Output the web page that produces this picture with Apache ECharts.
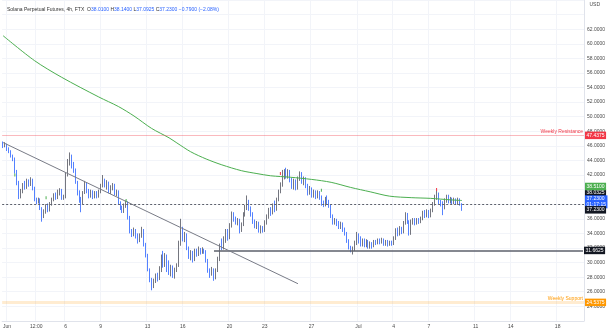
<!DOCTYPE html>
<html><head><meta charset="utf-8">
<script src="https://cdn.jsdelivr.net/npm/echarts@6/dist/echarts.min.js"></script>
<style>html,body{margin:0;padding:0;background:#fff}#c{width:612px;height:331px}</style>
</head><body><div id="c"></div>
<script>
// 4h candles, category 0 = May 31 16:00; rows are [open, close, low, high]
const candles = [
[46.4,46.0,45.7,46.6],[46.0,46.2,45.8,46.5],[46.2,45.5,45.3,46.3],[45.5,45.3,45.0,45.8],[45.3,44.6,44.4,45.4],
[44.6,44.2,43.9,44.8],[44.2,42.5,42.2,44.4],[42.5,41.0,40.6,42.7],[41.0,39.0,38.7,41.2],[39.0,39.8,38.8,40.1],
[39.8,40.6,39.5,40.9],[40.6,40.3,40.0,41.2],[40.3,41.1,40.1,41.5],[41.1,40.7,40.4,41.4],[40.7,41.3,40.5,41.7],
[41.3,40.2,39.9,41.5],[40.2,38.7,38.4,40.4],[38.7,38.4,38.0,38.9],[38.4,38.6,38.1,38.9],[38.6,37.4,37.2,38.8],
[37.4,36.4,35.6,37.6],[36.4,37.0,36.1,37.3],[37.0,37.8,36.7,38.0],[37.8,37.2,36.9,38.1],[37.2,38.0,37.0,38.3],
[38.0,38.6,37.8,38.9],[38.6,39.2,38.4,39.5],[39.2,38.9,38.6,39.6],[38.9,39.5,38.7,40.0],[39.5,39.9,39.2,40.2],
[39.9,38.9,38.6,40.1],[38.9,39.0,38.6,39.3],[39.0,42.0,38.8,42.3],[42.0,43.8,41.8,44.2],[43.8,44.5,43.3,45.1],
[44.5,43.2,42.9,44.8],[43.2,42.6,42.3,43.8],[42.6,41.0,40.8,42.9],[41.0,39.5,39.2,41.2],[39.5,38.8,38.2,39.9],
[38.8,38.3,36.9,39.0],[38.3,39.6,38.0,39.8],[39.6,40.8,39.4,41.2],[40.8,39.8,39.5,41.0],[39.8,39.2,38.8,40.1],
[39.2,39.6,38.9,40.0],[39.6,39.0,38.7,39.9],[39.0,39.5,38.8,39.8],[39.5,39.1,38.8,39.8],[39.1,39.7,38.9,40.0],
[39.7,40.5,39.5,40.8],[40.5,41.2,40.3,42.0],[41.2,40.6,40.3,41.5],[40.6,40.9,40.0,41.3],[40.9,39.8,39.5,41.1],
[39.8,40.3,39.4,40.6],[40.3,40.6,39.9,40.9],[40.6,39.4,39.2,40.8],[39.4,39.7,39.1,40.0],[39.7,38.2,37.9,39.9],
[38.2,37.5,37.2,38.4],[37.5,37.0,36.8,37.8],[37.0,37.8,36.8,38.1],[37.8,38.2,37.5,38.5],[38.2,36.2,35.9,38.4],
[36.2,34.3,34.0,36.4],[34.3,33.9,33.5,34.6],[33.9,34.4,33.6,34.8],[34.4,33.7,33.3,34.6],[33.7,33.0,32.6,34.0],
[33.0,33.6,32.8,34.0],[33.6,34.4,33.4,34.9],[34.4,32.5,32.2,34.6],[32.5,31.0,30.7,32.7],[31.0,29.0,28.8,31.2],
[29.0,27.6,27.3,29.2],[27.6,26.8,26.2,27.9],[26.8,27.5,26.5,27.8],[27.5,28.2,27.2,28.5],[28.2,27.8,27.4,28.6],
[27.8,28.9,27.6,29.5],[28.9,30.8,28.7,31.1],[30.8,29.6,29.3,31.6],[29.6,30.9,29.4,31.3],[30.9,30.1,28.7,31.1],
[30.1,28.6,28.3,30.3],[28.6,29.4,28.1,29.7],[29.4,28.1,27.9,29.6],[28.1,29.0,27.8,29.3],[29.0,29.6,28.7,29.9],
[29.6,32.5,29.4,33.0],[32.5,34.6,32.3,36.0],[34.6,33.2,32.9,34.9],[33.2,33.8,32.8,34.2],[33.8,32.0,31.7,34.0],
[32.0,31.0,30.5,32.2],[31.0,31.3,30.3,31.7],[31.3,30.4,30.0,31.6],[30.4,31.5,30.2,31.9],[31.5,31.1,30.8,31.9],
[31.1,31.8,30.9,32.2],[31.8,31.4,31.1,32.0],[31.4,31.7,31.2,32.1],[31.7,31.5,31.2,31.9],[31.5,30.3,30.0,31.7],
[30.3,28.9,28.6,30.5],[28.9,28.6,27.9,29.2],[28.6,29.0,28.2,29.4],[29.0,28.0,27.5,29.2],[28.0,28.9,27.7,29.2],
[28.9,30.5,28.7,30.8],[30.5,32.3,30.2,32.6],[32.3,32.0,31.7,33.3],[32.0,33.2,31.8,33.6],[33.2,34.3,32.7,34.6],
[34.3,33.4,33.0,34.6],[33.4,35.0,33.2,35.4],[35.0,36.6,34.8,37.0],[36.6,36.0,35.6,36.9],[36.0,35.5,35.2,36.3],
[35.5,35.8,35.1,36.1],[35.8,34.6,34.0,36.0],[34.6,35.2,34.2,35.5],[35.2,36.6,35.0,36.9],[36.6,37.6,36.3,37.9],
[37.6,38.3,37.2,39.2],[38.3,37.4,37.1,38.6],[37.4,36.6,36.3,37.7],[36.6,35.6,35.3,36.9],[35.6,35.0,34.7,35.9],
[35.0,35.4,34.6,35.7],[35.4,34.5,34.1,35.6],[34.5,34.8,34.0,35.1],[34.8,34.4,34.1,35.0],[34.4,35.5,34.2,35.8],
[35.5,36.3,35.2,36.6],[36.3,37.2,36.0,37.5],[37.2,36.8,36.4,37.6],[36.8,37.8,36.6,38.1],[37.8,37.3,36.9,38.5],
[37.3,38.6,37.1,38.9],[38.6,39.7,38.4,40.0],[39.7,40.6,39.5,41.0],[40.6,41.7,40.4,42.7],[41.7,42.4,41.4,42.8],
[42.4,41.8,41.5,43.0],[41.8,42.5,41.5,42.8],[42.5,41.3,41.0,42.7],[41.3,40.4,40.1,41.6],[40.4,41.2,40.0,41.5],
[41.2,40.2,39.9,41.4],[40.2,41.5,40.0,41.8],[41.5,42.2,41.2,42.5],[42.2,41.0,40.8,42.4],[41.0,41.5,40.6,41.8],
[41.5,40.5,40.2,41.7],[40.5,39.6,39.2,40.8],[39.6,40.1,39.3,40.5],[40.1,39.2,38.9,40.3],[39.2,39.7,38.9,40.0],
[39.7,39.0,38.7,39.9],[39.0,39.6,38.8,39.9],[39.6,38.9,38.6,39.8],[38.9,38.2,37.8,39.2],[38.2,37.9,37.6,38.5],
[37.9,38.6,37.7,39.0],[38.6,38.3,37.9,39.2],[38.3,37.8,37.5,38.6],[37.8,36.4,36.1,38.0],[36.4,35.6,35.2,36.6],
[35.6,35.9,35.2,36.1],[35.9,35.4,35.0,36.0],[35.4,35.0,34.6,35.7],[35.0,35.3,34.6,35.6],[35.3,34.5,34.2,35.5],
[34.5,34.0,33.7,34.8],[34.0,33.0,32.7,34.2],[33.0,32.0,31.8,33.2],[32.0,31.7,31.4,32.3],[31.7,31.9,31.1,32.2],
[31.9,32.6,31.6,33.0],[32.6,33.8,32.4,34.2],[33.8,33.2,32.6,34.0],[33.2,32.5,32.2,33.6],[32.5,33.0,32.2,33.3],
[33.0,32.4,32.1,33.3],[32.4,32.9,32.1,33.2],[32.9,32.2,31.9,33.1],[32.2,32.6,31.9,32.9],[32.6,32.3,31.9,32.8],
[32.3,32.8,32.1,33.1],[32.8,32.7,32.4,33.1],[32.7,33.0,32.5,33.3],[33.0,32.8,32.5,33.3],[32.8,33.1,32.6,33.4],
[33.1,32.6,32.3,33.3],[32.6,32.9,32.3,33.1],[32.9,32.5,32.2,33.1],[32.5,32.8,32.3,33.0],[32.8,32.6,32.3,33.0],
[32.6,33.3,32.4,33.6],[33.3,34.4,33.1,34.7],[34.4,33.9,33.6,34.8],[33.9,34.7,33.7,35.0],[34.7,34.2,33.9,34.9],
[34.2,35.4,34.0,35.7],[35.4,36.6,35.2,36.9],[36.6,35.6,35.3,36.8],[35.6,34.0,33.7,35.8],[34.0,35.6,33.8,35.9],
[35.6,35.8,35.2,36.1],[35.8,35.4,35.1,36.1],[35.4,35.9,35.2,36.1],[35.9,35.6,35.3,36.1],[35.6,36.0,35.4,36.3],
[36.0,36.8,35.8,37.1],[36.8,36.5,36.1,37.2],[36.5,37.0,36.2,37.3],[37.0,36.4,36.1,37.2],[36.4,37.1,36.2,37.4],
[37.1,38.0,36.9,38.3],[38.0,38.9,37.8,39.3],[38.9,39.4,38.6,39.9],[39.4,38.3,38.0,39.6],[38.3,38.0,37.7,38.6],
[38.0,37.6,36.5,38.4],[37.6,38.5,37.3,38.8],[38.5,39.0,38.2,39.3],[39.0,38.4,38.1,39.3],[38.4,38.7,38.1,39.0],
[38.7,38.3,38.0,38.9],[38.3,38.6,38.0,38.9],[38.6,38.2,37.9,38.8],[38.2,38.6,37.9,38.9],[38.6,38.02,37.8,38.8],
[38.01,37.23,37.0925,38.14]
];
// moving average read at selected candles: [categoryIndex, value]
const maPoints = [
[0,61.1],[16,57.7],[30,55.4],[49,52.7],[59,51.4],[67,50.1],[76,48.4],[85,47.1],[89,46.4],[96,45.2],
[104,44.2],[112,43.4],[122,42.6],[130,42.2],[137,41.9],[147,41.7],[158,41.4],[168,41.0],[178,40.3],
[188,39.7],[198,39.1],[209,38.9],[219,38.8],[229,38.6],[235,38.51]
];
// small signal flags: [categoryIndex, price]
const redFlags = [[142,42.2],[222,40.0]];
const greenFlags = [[6,42.0],[22,38.9],[63,38.5],[163,39.9]];
const tickIdx = [2,17,32,50,74,92,116,134,158,182,200,218,242,260,284];
const tickText = ['Jun','12:00','6','9','13','16','20','23','27','Jul','4','7','11','14','18'];
const trendline = [[0,46.45],[151,27.1]];
const supportLevel = 24.5375, resistanceLevel = 47.4375, hLine = 31.6625, hLineStart = 108;
const dashedLevel = 38.0325, lastPrice = 37.23, maLast = 38.51;

const nCat = 298;
const t0 = Date.UTC(2022,4,31,16);
const categories = Array.from({length:nCat},(_,i)=>{const d=new Date(t0+i*4*3600e3);return (d.getUTCMonth()+1)+'-'+d.getUTCDate()+' '+d.getUTCHours()+':00';});
const tickSet = new Set(tickIdx);
const FONT = 'Liberation Sans';
const CLEAR = {color:'rgba(0,0,0,0)',width:1,type:'solid'};
const boxLabel = (txt,bg,dy)=>({show:true,position:'end',distance:1,formatter:txt,backgroundColor:bg,color:'#fff',fontSize:5,fontWeight:'normal',fontFamily:FONT,padding:[1,1.5,1,1.5],lineHeight:5.5,offset:[0,dy||0]});
const flagPts = (arr,color)=>arr.map(p=>({coord:p,symbol:'rect',symbolSize:[1,3],itemStyle:{color:color},label:{show:false}}));

const chart = echarts.init(document.getElementById('c'),null,{renderer:'canvas'});
chart.setOption({
  animation:false,
  backgroundColor:'#fff',
  title:{left:2,top:2,text:'{a|Solana Perpetual Futures, 4h, FTX}  {b|O}{c|38.0100} {b|H}{c|38.1400} {b|L}{c|37.0925} {b|C}{c|37.2300} {c|−0.7900 (−2.08%)}',
    textStyle:{fontSize:5,fontWeight:'normal',fontFamily:FONT,rich:{a:{fontSize:5,fontWeight:'normal',color:'#333',fontFamily:FONT},b:{fontSize:5,fontWeight:'normal',color:'#333',fontFamily:FONT},c:{fontSize:5,fontWeight:'normal',color:'#2962ff',fontFamily:FONT}}}},
  graphic:[{type:'text',right:12,top:2,style:{text:'USD',fontSize:5,fontFamily:FONT,fill:'#4a4a4a'}}],
  grid:{left:0,right:28,top:-6.5,bottom:10.1},
  xAxis:{type:'category',data:categories,boundaryGap:true,
    axisLine:{lineStyle:{color:'#e0e3eb'}},axisTick:{show:false},
    axisLabel:{interval:(i)=>tickSet.has(i),formatter:(v,i)=>tickText[tickIdx.indexOf(i)]||'',fontSize:5,fontFamily:FONT,color:'#4a4a4a',margin:3},
    splitLine:{show:true,interval:(i)=>tickSet.has(i),lineStyle:{color:'#f2f4f9',width:1}}},
  yAxis:{type:'value',position:'right',min:22,max:66,interval:2,
    axisLine:{show:true,lineStyle:{color:'#e0e3eb'}},axisTick:{show:false},
    axisLabel:{fontSize:5,fontFamily:FONT,color:'#4a4a4a',margin:3,formatter:(v)=>(v<=22||v>=64)?'':v.toFixed(4)},
    splitLine:{lineStyle:{color:'#f2f4f9',width:1}}},
  series:[
    {type:'candlestick',data:candles,barWidth:1.3,
      itemStyle:{color:'#7c7f89',color0:'#2962ff',borderColor:'#50535e',borderColor0:'#2962ff',borderWidth:0.8},
      markPoint:{silent:true,animation:false,data:flagPts(redFlags,'#f23645').concat(flagPts(greenFlags,'#4caf50'))},
      markLine:{symbol:'none',silent:true,animation:false,
        data:[
          {yAxis:resistanceLevel,lineStyle:{color:'rgba(242,54,69,0.35)',width:1,type:'solid'},label:{show:true,position:'insideEndTop',formatter:'Weekly Resistance',color:'#f23645',fontSize:5,fontFamily:FONT,distance:1}},
          {yAxis:resistanceLevel,lineStyle:CLEAR,label:boxLabel('47.4375','#f23645')},
          {yAxis:supportLevel,lineStyle:{color:'rgba(255,152,0,0.18)',width:3,type:'solid'},label:{show:true,position:'insideEndTop',formatter:'Weekly Support',color:'#ff9800',fontSize:5,fontFamily:FONT,distance:1}},
          {yAxis:supportLevel,lineStyle:CLEAR,label:boxLabel('24.5375','#ff9800')},
          {yAxis:dashedLevel,lineStyle:{color:'#5d606b',width:1,type:[2,2]},label:boxLabel('38.0325','#131722',-11)},
          {yAxis:lastPrice,lineStyle:CLEAR,label:boxLabel('37.2300\n01:17:15','#2962ff',-8)},
          {yAxis:lastPrice,lineStyle:CLEAR,label:boxLabel('37.2300','#131722',0)},
          [{coord:[hLineStart,hLine],lineStyle:{color:'#5d606b',width:1.6,type:'solid'},label:boxLabel('31.6625','#131722',0)},{coord:[nCat-1,hLine]}],
          [{coord:trendline[0],lineStyle:{color:'#787b86',width:1,type:'solid'},label:{show:false}},{coord:trendline[1]}]
        ]}},
    {type:'line',data:maPoints,showSymbol:false,smooth:0.3,lineStyle:{color:'#4caf50',width:1},z:3,
      markLine:{symbol:'none',silent:true,data:[{yAxis:maLast,lineStyle:CLEAR,label:boxLabel('38.5100','#4caf50',-14)}]}}
  ]
});
</script></body></html>
